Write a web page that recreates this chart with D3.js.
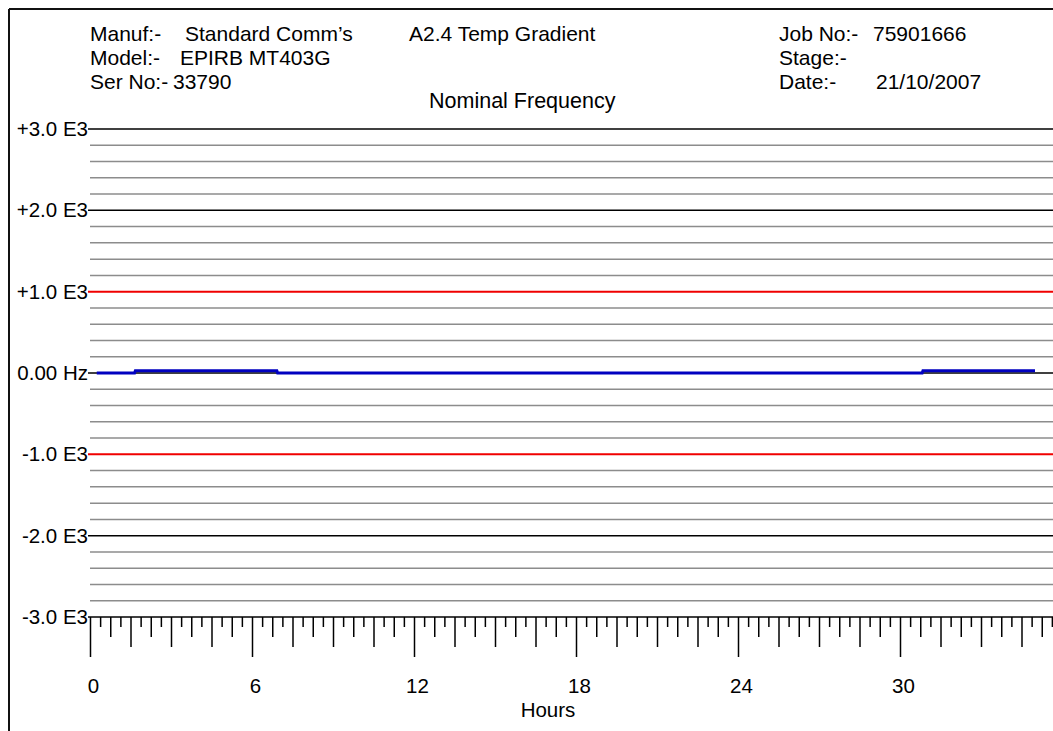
<!DOCTYPE html>
<html>
<head>
<meta charset="utf-8">
<script src="https://cdn.jsdelivr.net/npm/d3@7"></script>
<style>
  body { margin: 0; background: #fff; }
  svg { display: block; font-family: "Liberation Sans", Arial, sans-serif; }
</style>
</head>
<body>
<div id="chart"></div>
<script>
// header fields
var headLeft = [["Manuf:-", "Standard Comm\u2019s"], ["Model:-", "EPIRB MT403G"], ["Ser No:-", "33790"]]
var headRight = [["Job No:-", "75901666"], ["Stage:-", ""], ["Date:-", "21/10/2007"]]
var testName = "A2.4 Temp Gradient"
var plotTitle = "Nominal Frequency"

// axes
var yMajor = [3000, 2000, 1000, 0, -1000, -2000, -3000]
var yLabels = ["+3.0 E3", "+2.0 E3", "+1.0 E3", "0.00 Hz", "-1.0 E3", "-2.0 E3", "-3.0 E3"]
var yRed = [1000, -1000]
var hourLabels = [0, 6, 12, 18, 24, 30]

// frequency offset trace (hours, Hz)
var hours = [0.25, 1.65, 1.68, 6.92, 6.95, 30.82, 30.85, 35.0]
var offsetHz = [0, 0, 28, 28, 0, 0, 28, 28]

var W = 1053, H = 731
var svg = d3.select('#chart').append('svg').attr('width', W).attr('height', H)

var x = d3.scaleLinear().domain([0, 963 / 27]).range([90, 1053])
var y = d3.scaleLinear().domain([-3000, 3000]).range([617, 129])

// frame
svg.append('line').attr('x1', 9).attr('x2', W).attr('y1', 9).attr('y2', 9).attr('stroke', '#111').attr('stroke-width', 2)
svg.append('line').attr('x1', 9).attr('x2', 9).attr('y1', 9).attr('y2', H).attr('stroke', '#111').attr('stroke-width', 2)

// header text
var fs = 20.5, hfs = 21
headLeft.forEach(function (r, i) {
  svg.append('text').attr('x', 90).attr('y', 41 + i * 24).attr('font-size', hfs).text(r[0])
  svg.append('text').attr('x', i == 2 ? 173 : (i == 1 ? 180 : 185)).attr('y', 41 + i * 24).attr('font-size', hfs).text(r[1])
})
headRight.forEach(function (r, i) {
  svg.append('text').attr('x', 779).attr('y', 41 + i * 24).attr('font-size', hfs).text(r[0])
  svg.append('text').attr('x', i == 2 ? 876 : 873).attr('y', 41 + i * 24).attr('font-size', hfs).text(r[1])
})
svg.append('text').attr('x', 409).attr('y', 41).attr('font-size', hfs).text(testName)
svg.append('text').attr('x', 429).attr('y', 108).attr('font-size', 21.5).text(plotTitle)

// minor grid every 200 Hz
var minor = d3.range(-2800, 3000, 200).filter(function (v) { return v % 1000 != 0 })
svg.append('g').selectAll('line').data(minor).join('line')
  .attr('x1', x(0)).attr('x2', W)
  .attr('y1', function (d) { return y(d) }).attr('y2', function (d) { return y(d) })
  .attr('stroke', '#8c8c8c').attr('stroke-width', 1.5)

// major lines + labels
var yAxis = d3.axisLeft(y).tickValues(yMajor).tickSize(0).tickPadding(2)
  .tickFormat(function (d, i) { return yLabels[i] })
var ga = svg.append('g').attr('transform', 'translate(' + x(0) + ',0)').call(yAxis)
ga.select('.domain').remove()
ga.selectAll('text').attr('font-size', fs).attr('font-family', '"Liberation Sans", Arial, sans-serif').attr('fill', '#000')

svg.append('g').selectAll('line').data(yMajor).join('line')
  .attr('x1', x(0) - 2).attr('x2', W)
  .attr('y1', function (d) { return y(d) }).attr('y2', function (d) { return y(d) })
  .attr('stroke', function (d) { return yRed.indexOf(d) >= 0 ? '#f00000' : '#000' })
  .attr('stroke-width', function (d) { return yRed.indexOf(d) >= 0 ? 2 : 1.5 })

// hour ruler
var xmax = x.domain()[1]
var allTicks = d3.range(0, Math.floor(xmax / 0.375) + 1).map(function (i) { return i * 0.375 })
var levels = [
  { len: 10, keep: function (i) { return i % 2 == 1 } },
  { len: 20, keep: function (i) { return i % 2 == 0 && i % 4 != 0 } },
  { len: 30, keep: function (i) { return i % 4 == 0 && i % 16 != 0 } },
  { len: 40, keep: function (i) { return i % 16 == 0 } }
]
levels.forEach(function (lv) {
  var vals = allTicks.filter(function (t, i) { return lv.keep(i) })
  var g = svg.append('g').attr('transform', 'translate(0,' + y(-3000) + ')')
    .call(d3.axisBottom(x).tickValues(vals).tickSize(lv.len).tickFormat(''))
  g.select('.domain').remove()
  g.selectAll('line').attr('stroke', '#000').attr('stroke-width', 1.5)
})

var gl = svg.append('g').attr('transform', 'translate(3,' + (y(-3000) + 45) + ')')
  .call(d3.axisBottom(x).tickValues(hourLabels).tickSize(0).tickPadding(16).tickFormat(d3.format('d')))
gl.select('.domain').remove()
gl.selectAll('text').attr('font-size', fs).attr('font-family', '"Liberation Sans", Arial, sans-serif').attr('fill', '#000')

svg.append('text').attr('x', 548).attr('y', 717).attr('text-anchor', 'middle').attr('font-size', fs).text('Hours')

// trace
var pts = hours.map(function (h, i) { return [h, offsetHz[i]] })
svg.append('path').datum(pts)
  .attr('d', d3.line().x(function (d) { return x(d[0]) }).y(function (d) { return y(d[1]) }))
  .attr('fill', 'none').attr('stroke', '#0000c0').attr('stroke-width', 3)
</script>
</body>
</html>
